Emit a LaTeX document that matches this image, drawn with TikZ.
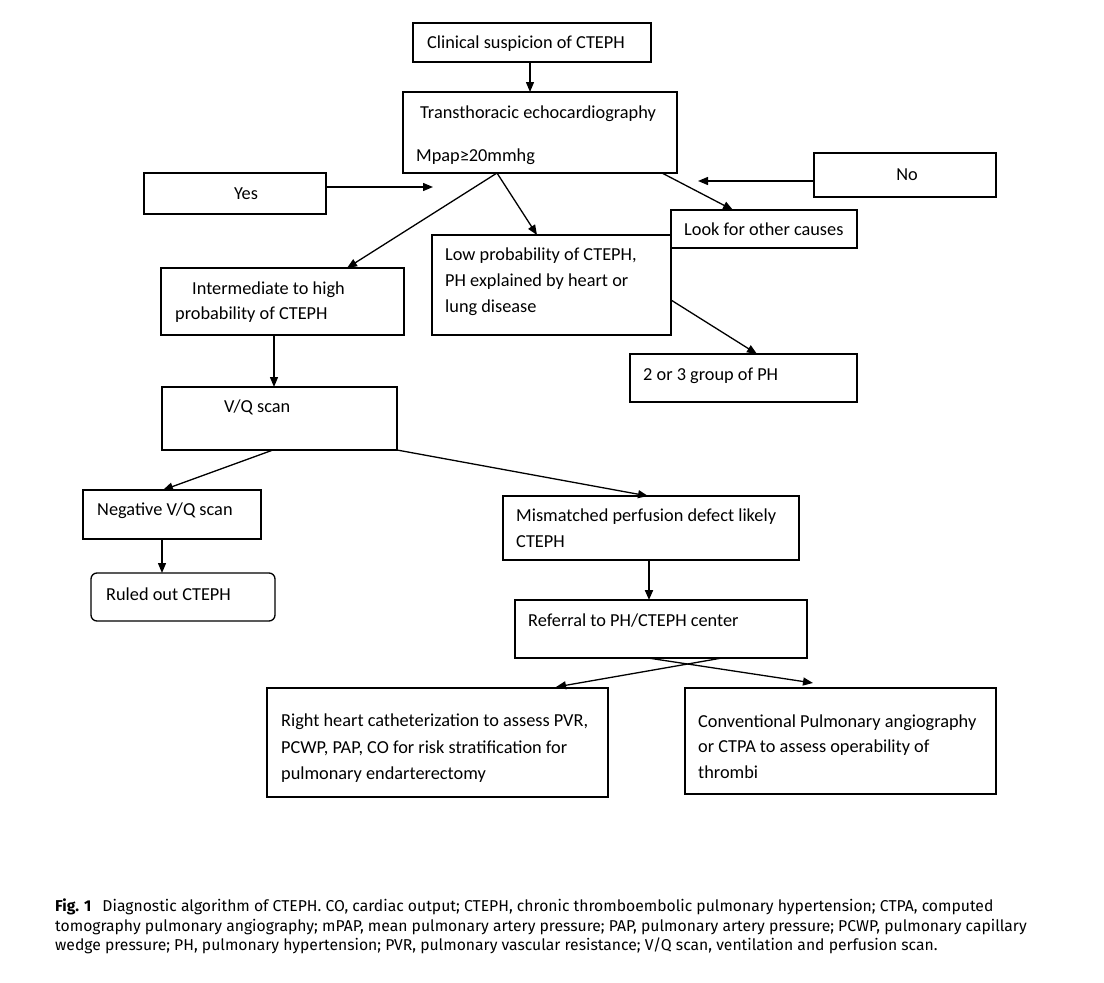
\documentclass[tikz,border=0pt]{standalone}
\usepackage{fontspec}
\setmainfont{Carlito}
\newfontfamily\capfont{Fira Sans}
\usetikzlibrary{arrows.meta,calc}
\begin{document}
\begin{tikzpicture}[x=1pt,y=-1pt,
  box/.style={draw, line width=1.3pt, inner sep=0pt, outer sep=0pt, anchor=north west},
  txt/.style={inner sep=0pt, anchor=base west, font=\fontsize{18.3}{22}\selectfont},
  arr/.style={line width=1.3pt, -{Triangle[length=10pt,width=8pt]}},
  captxt/.style={inner sep=0pt, anchor=base west, font=\capfont\fontsize{15.7}{19}\selectfont}]
\fill[white] (0,0) rectangle (1104,983);
\useasboundingbox (0,0) rectangle (1104,983);

% boxes
\node[box, minimum width=238pt, minimum height=39pt] (clin) at (413,23) {};
\node[box, minimum width=274pt, minimum height=81pt] (trans) at (403,92) {};
\node[box, minimum width=182pt, minimum height=41pt] (yes) at (144,173) {};
\node[box, minimum width=182pt, minimum height=44pt] (no) at (814,153) {};
\node[box, minimum width=186pt, minimum height=38pt] (look) at (671,210) {};
\node[box, minimum width=239pt, minimum height=100pt] (low) at (432,235) {};
\node[box, minimum width=243pt, minimum height=67pt] (inter) at (161,268) {};
\node[box, minimum width=227pt, minimum height=48pt] (grp) at (630,354) {};
\node[box, minimum width=235pt, minimum height=63pt] (vq) at (162,387) {};
\node[box, minimum width=178pt, minimum height=49pt] (neg) at (83,490) {};
\node[box, minimum width=184pt, minimum height=48pt, rounded corners=6pt] (ruled) at (91,573) {};
\node[box, minimum width=296pt, minimum height=64pt] (mis) at (503,496) {};
\node[box, minimum width=292pt, minimum height=58pt] (ref) at (515,600) {};
\node[box, minimum width=341pt, minimum height=109pt] (rhc) at (267,688) {};
\node[box, minimum width=311pt, minimum height=106pt] (conv) at (685,688) {};

% texts
\node[txt] (clinT) at (427,48) {Clinical suspicion of CTEPH};
\node[txt] (transT1) at (420,118) {Transthoracic echocardiography};
\node[txt] (transT2) at (416,161) {Mpap≥20mmhg};
\node[txt, anchor=base] (yesT) at (246,199) {Yes};
\node[txt, anchor=base] (noT) at (907,180) {No};
\node[txt] (lookT) at (684,235) {Look for other causes};
\node[txt] (lowT1) at (445,260) {Low probability of CTEPH,};
\node[txt] (lowT2) at (445,286) {PH explained by heart or};
\node[txt] (lowT3) at (445,312) {lung disease};
\node[txt] (interT1) at (192,294) {Intermediate to high};
\node[txt] (interT2) at (175,319) {probability of CTEPH};
\node[txt] (grpT) at (643,380) {2 or 3 group of PH};
\node[txt] (vqT) at (224,412) {V/Q scan};
\node[txt] (negT) at (97,515) {Negative V/Q scan};
\node[txt] (ruledT) at (106,600) {Ruled out CTEPH};
\node[txt] (misT1) at (516,521) {Mismatched perfusion defect likely};
\node[txt] (misT2) at (516,547) {CTEPH};
\node[txt] (refT) at (528,626) {Referral to PH/CTEPH center};
\node[txt] (rhcT1) at (281,726) {Right heart catheterization to assess PVR,};
\node[txt] (rhcT2) at (281,753) {PCWP, PAP, CO for risk stratification for};
\node[txt] (rhcT3) at (281,779) {pulmonary endarterectomy};
\node[txt] (convT1) at (698,727) {Conventional Pulmonary angiography};
\node[txt] (convT2) at (698,752) {or CTPA to assess operability of};
\node[txt] (convT3) at (698,778) {thrombi};

% free ends
\coordinate (yesEnd) at (433,187);
\coordinate (noEnd) at (698,181);

% connectors
\draw[arr] (clin.south -| 530,0) -- (trans.north -| 530,0);
\draw[arr] (yes.east |- 0,187) -- (yesEnd);
\draw[arr] (no.west |- 0,181) -- (noEnd);
\draw[arr] (trans.south -| 497,0) -- (inter.north -| 347,0);
\draw[arr] (trans.south -| 497,0) -- (low.north -| 537,0);
\draw[arr] (trans.south -| 662,0) -- (look.north -| 733,0);
\draw[arr] (low.east |- 0,300) -- (grp.north -| 757,0);
\draw[arr] (inter.south -| 274,0) -- (vq.north -| 274,0);
\draw[arr] (vq.south -| 273,0) -- (neg.north -| 163,0);
\draw[arr] (vq.south east) -- (mis.north -| 648,0);
\draw[arr] (neg.south -| 162,0) -- (ruled.north -| 162,0);
\draw[arr, line width=2pt] (mis.south -| 649,0) -- (ref.north -| 649,0);
\draw[arr] (ref.south -| 648,0) -- ($(conv.north -| 813,0)+(0,-5)$);
\draw[arr] (ref.south -| 722,0) -- ($(rhc.north -| 556,0)+(0,-1)$);

% caption
\node[captxt] (cap1) at (55,911) {\textbf{Fig. 1}\hspace{0.7em}Diagnostic algorithm of CTEPH. CO, cardiac output; CTEPH, chronic thromboembolic pulmonary hypertension; CTPA, computed};
\node[captxt] (cap2) at (55,931) {tomography pulmonary angiography; mPAP, mean pulmonary artery pressure; PAP, pulmonary artery pressure; PCWP, pulmonary capillary};
\node[captxt] (cap3) at (55,950) {wedge pressure; PH, pulmonary hypertension; PVR, pulmonary vascular resistance; V/Q scan, ventilation and perfusion scan.};
\end{tikzpicture}
\end{document}
